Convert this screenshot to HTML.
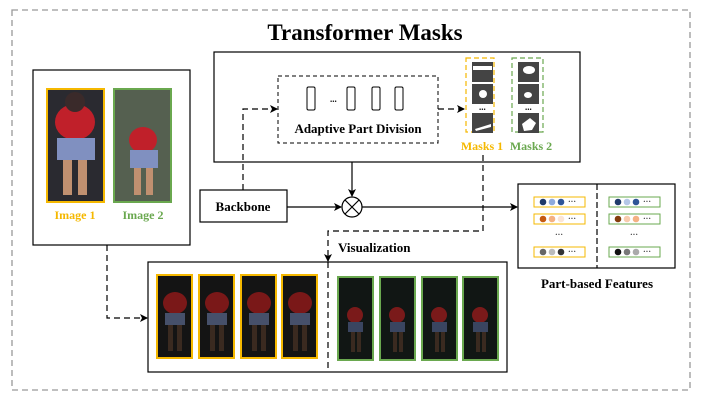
<!DOCTYPE html>
<html><head><meta charset="utf-8"><style>
body{margin:0;background:#fff}
svg{display:block}
text{font-family:"Liberation Serif",serif;font-weight:bold}
</style></head><body>
<svg width="705" height="406" viewBox="0 0 705 406" xmlns="http://www.w3.org/2000/svg">
<defs>
<marker id="ar" markerWidth="8" markerHeight="8" refX="7" refY="4" orient="auto" markerUnits="userSpaceOnUse"><path d="M0,0 L8,4 L0,8 L2,4 z" fill="#000"/></marker>
<g id="p1" stroke="none"><rect width="35" height="83" fill="#141414"/><ellipse cx="18" cy="28" rx="12" ry="11" fill="#7a1818"/><rect x="8" y="38" width="20" height="12" fill="#46506a"/><rect x="11" y="50" width="5" height="26" fill="#3a2a20"/><rect x="20" y="50" width="5" height="26" fill="#3a2a20"/></g>
<g id="p2" stroke="none"><rect width="35" height="83" fill="#111614"/><ellipse cx="17" cy="38" rx="8" ry="8" fill="#7a1a1a"/><rect x="10" y="45" width="15" height="10" fill="#3a4560"/><rect x="13" y="55" width="4" height="20" fill="#3a2a20"/><rect x="19" y="55" width="4" height="20" fill="#3a2a20"/></g>
</defs>
<rect x="12" y="10" width="678" height="380" fill="none" stroke="#999" stroke-width="1.3" stroke-dasharray="6,4"/>
<text x="365" y="40" font-size="23" text-anchor="middle">Transformer Masks</text>

<rect x="214" y="52" width="366" height="110" fill="none" stroke="#000" stroke-width="1.2"/>
<rect x="278" y="76" width="160" height="67" fill="none" stroke="#000" stroke-width="1" stroke-dasharray="4,3"/>
<g fill="none" stroke="#000" stroke-width="1"><rect x="307" y="87" width="8" height="23" rx="1.5"/><rect x="347" y="87" width="8" height="23" rx="1.5"/><rect x="372" y="87" width="8" height="23" rx="1.5"/><rect x="395" y="87" width="8" height="23" rx="1.5"/></g>
<text x="330" y="102" font-size="9" font-weight="normal">...</text>
<text x="358" y="133" font-size="13" text-anchor="middle">Adaptive Part Division</text>
<rect x="466" y="58" width="28" height="74" fill="none" stroke="#f5b800" stroke-width="1.2" stroke-dasharray="5,3"/>
<rect x="512" y="58" width="31" height="74" fill="none" stroke="#6aa84f" stroke-width="1.2" stroke-dasharray="5,3"/>
<g fill="#444"><rect x="472" y="62" width="21" height="20"/><rect x="472" y="84" width="21" height="20"/><rect x="472" y="113" width="21" height="20"/><rect x="518" y="62" width="21" height="20"/><rect x="518" y="84" width="21" height="20"/><rect x="518" y="113" width="21" height="20"/></g>
<g fill="#fff"><rect x="473" y="66" width="19" height="4"/><ellipse cx="483" cy="94" rx="4" ry="4"/><path d="M475,129 L491,124 L491,127 L476,131z"/><ellipse cx="529" cy="70" rx="6" ry="4"/><ellipse cx="528" cy="95" rx="4" ry="3"/><path d="M522,124 L530,118 L536,123 L532,130 L524,131z"/></g>
<text x="479" y="110" font-size="9" font-weight="normal">...</text><text x="525" y="110" font-size="9" font-weight="normal">...</text>
<text x="482" y="150" font-size="12" fill="#f5b800" text-anchor="middle">Masks 1</text>
<text x="531" y="150" font-size="12" fill="#6aa84f" text-anchor="middle">Masks 2</text>

<rect x="33" y="70" width="157" height="175" fill="none" stroke="#000" stroke-width="1.2"/>
<rect x="47" y="89" width="57" height="113" fill="#2a2a30" stroke="#f5b800" stroke-width="2"/>
<ellipse cx="75" cy="122" rx="20" ry="18" fill="#c0202a"/><rect x="57" y="138" width="38" height="22" fill="#8090c0"/><rect x="63" y="160" width="9" height="35" fill="#c09070"/><rect x="78" y="160" width="9" height="35" fill="#c09070"/><ellipse cx="75" cy="102" rx="10" ry="10" fill="#3a2a2a"/>
<rect x="114" y="89" width="57" height="113" fill="#556050" stroke="#6aa84f" stroke-width="2"/>
<ellipse cx="143" cy="140" rx="14" ry="13" fill="#c0202a"/><rect x="130" y="150" width="28" height="18" fill="#8090c0"/><rect x="134" y="168" width="7" height="27" fill="#c09070"/><rect x="146" y="168" width="7" height="27" fill="#c09070"/>
<text x="75" y="219" font-size="12" fill="#f5b800" text-anchor="middle">Image 1</text>
<text x="143" y="219" font-size="12" fill="#6aa84f" text-anchor="middle">Image 2</text>

<rect x="200" y="190" width="87" height="32" fill="none" stroke="#000" stroke-width="1.2"/>
<text x="243" y="211" font-size="13" text-anchor="middle">Backbone</text>
<circle cx="352" cy="207" r="10" fill="none" stroke="#000" stroke-width="1.2"/>
<path d="M345,200 L359,214 M359,200 L345,214" stroke="#000" stroke-width="1.2"/>
<g stroke="#000" stroke-width="1.2" fill="none">
<line x1="352" y1="162" x2="352" y2="196" marker-end="url(#ar)"/>
<line x1="287" y1="207" x2="341" y2="207" marker-end="url(#ar)"/>
<line x1="362" y1="207" x2="517" y2="207" marker-end="url(#ar)"/>
</g>
<g stroke="#000" stroke-width="1.2" fill="none" stroke-dasharray="6,4">
<path d="M243,190 L243,109 L277,109" marker-end="url(#ar)"/>
<path d="M438,109 L464,109" marker-end="url(#ar)"/>
<path d="M483,155 L483,231 L328,231 L328,261" marker-end="url(#ar)"/>
<line x1="328" y1="262" x2="328" y2="372"/>
<path d="M107,245 L107,318 L147,318" marker-end="url(#ar)"/>
</g>
<text x="338" y="252" font-size="13">Visualization</text>

<rect x="518" y="184" width="157" height="84" fill="none" stroke="#000" stroke-width="1.2"/>
<line x1="597" y1="184" x2="597" y2="268" stroke="#000" stroke-width="1.2" stroke-dasharray="6,3"/>
<g fill="none" stroke-width="1"><rect x="534" y="197" width="51" height="10" stroke="#f5b800"/><rect x="534" y="214" width="51" height="10" stroke="#f5b800"/><rect x="534" y="247" width="51" height="10" stroke="#f5b800"/><rect x="609" y="197" width="51" height="10" stroke="#6aa84f"/><rect x="609" y="214" width="51" height="10" stroke="#6aa84f"/><rect x="609" y="247" width="51" height="10" stroke="#6aa84f"/></g>
<g><circle cx="543" cy="202" r="3.3" fill="#1f3a6a"/><circle cx="552" cy="202" r="3.3" fill="#8faadc"/><circle cx="561" cy="202" r="3.3" fill="#2f5597"/>
<circle cx="543" cy="219" r="3.3" fill="#c55a11"/><circle cx="552" cy="219" r="3.3" fill="#f4b183"/><circle cx="561" cy="219" r="3.3" fill="#fbe5d6"/>
<circle cx="543" cy="252" r="3.3" fill="#666"/><circle cx="552" cy="252" r="3.3" fill="#bbb"/><circle cx="561" cy="252" r="3.3" fill="#333"/>
<circle cx="618" cy="202" r="3.3" fill="#1f3a6a"/><circle cx="627" cy="202" r="3.3" fill="#b4c7e7"/><circle cx="636" cy="202" r="3.3" fill="#2f5597"/>
<circle cx="618" cy="219" r="3.3" fill="#843c0c"/><circle cx="627" cy="219" r="3.3" fill="#f8cbad"/><circle cx="636" cy="219" r="3.3" fill="#f4b183"/>
<circle cx="618" cy="252" r="3.3" fill="#111"/><circle cx="627" cy="252" r="3.3" fill="#777"/><circle cx="636" cy="252" r="3.3" fill="#aaa"/></g>
<g font-size="8" font-weight="normal" fill="#333"><text x="568" y="204">···</text><text x="568" y="221">···</text><text x="568" y="254">···</text><text x="643" y="204">···</text><text x="643" y="221">···</text><text x="643" y="254">···</text><text x="555" y="237">···</text><text x="630" y="237">···</text></g>
<text x="597" y="288" font-size="13" text-anchor="middle">Part-based Features</text>

<rect x="148" y="262" width="359" height="110" fill="none" stroke="#000" stroke-width="1.2"/>
<use href="#p1" x="157" y="275"/><use href="#p1" x="199" y="275"/><use href="#p1" x="241" y="275"/><use href="#p1" x="282" y="275"/>
<g stroke="#f5b800" stroke-width="2" fill="none"><rect x="157" y="275" width="35" height="83"/><rect x="199" y="275" width="35" height="83"/><rect x="241" y="275" width="35" height="83"/><rect x="282" y="275" width="35" height="83"/></g>
<use href="#p2" x="338" y="277"/><use href="#p2" x="380" y="277"/><use href="#p2" x="422" y="277"/><use href="#p2" x="463" y="277"/>
<g stroke="#6aa84f" stroke-width="2" fill="none"><rect x="338" y="277" width="35" height="83"/><rect x="380" y="277" width="35" height="83"/><rect x="422" y="277" width="35" height="83"/><rect x="463" y="277" width="35" height="83"/></g>
</svg>
</body></html>
